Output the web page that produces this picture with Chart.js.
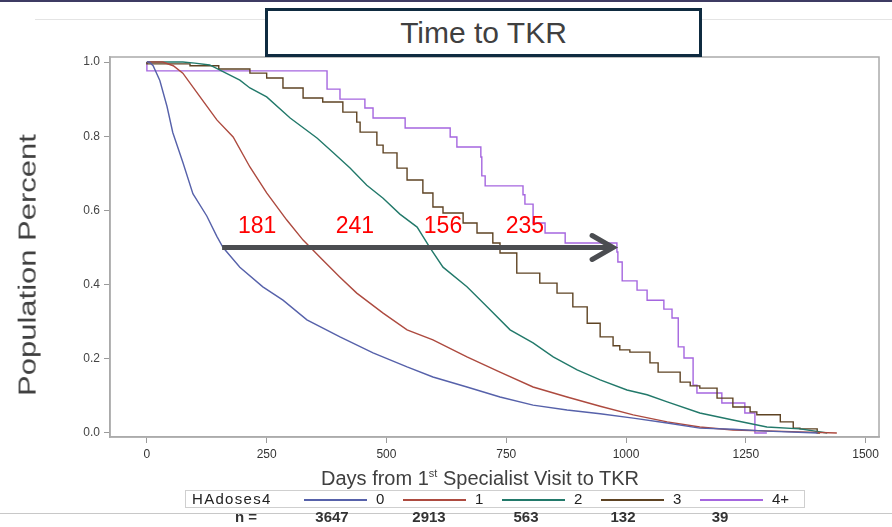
<!DOCTYPE html>
<html>
<head>
<meta charset="utf-8">
<script src="https://cdn.jsdelivr.net/npm/chart.js@4.4.1/dist/chart.umd.min.js"></script>
<style>
body { margin: 0; background: #fff; font-family: "Liberation Sans", Arial, sans-serif; }
#wrap { position: relative; width: 892px; height: 527px; overflow: hidden; }
#topbar { position: absolute; left: 0; top: 0; width: 892px; height: 2px; background: #3e3b63; }
#topline { position: absolute; left: 35px; top: 19px; width: 857px; height: 1px; background: #e4e4e4; }
#botline { position: absolute; left: 0; top: 513px; width: 892px; height: 1px; background: #c8c8c8; }
#title { position: absolute; left: 265px; top: 8px; width: 431px; height: 43px; border: 3px solid #0f2b40;
  background: #fff; text-align: center; font-size: 30px; line-height: 44px; color: #404040; }
#ytitle { position: absolute; left: 28px; top: 265px; white-space: nowrap; font-size: 31px; color: #404040;
  transform: translate(-50%, -50%) rotate(-90deg) scale(1, 0.8); }
#xtitle { position: absolute; left: 480px; top: 478px; white-space: nowrap; font-size: 20px; color: #404040;
  transform: translate(-50%, -50%); }
#xtitle sup { font-size: 11px; vertical-align: 8px; line-height: 0; }
#legend { position: absolute; left: 185px; top: 490px; width: 618px; height: 16px; border: 1px solid #cfcfcf; background: #fff; }
.lg { position: absolute; top: 0; font-size: 15px; line-height: 16px; color: #222; white-space: nowrap; }
.ls { position: absolute; top: 8px; height: 1.5px; }
.nrow { position: absolute; top: 509px; font-size: 15px; line-height: 16px; font-weight: bold; color: #333; transform: translateX(-50%); }
</style>
</head>
<body>
<div id="wrap">
  <canvas id="km" width="892" height="527"></canvas>
  <div id="topbar"></div>
  <div id="topline"></div>
  <div id="botline"></div>
  <div id="title">Time to TKR</div>
  <div id="ytitle">Population Percent</div>
  <div id="xtitle">Days from 1<sup>st</sup> Specialist Visit to TKR</div>
  <div id="legend"></div>
</div>
<script>
// tick labels
var xTicks = [0, 250, 500, 750, 1000, 1250, 1500];
var yTicks = [0, 0.2, 0.4, 0.6, 0.8, 1.0];

// groups
var groups = ['0', '1', '2', '3', '4+'];
var groupN = [3647, 2913, 563, 132, 39];
var colors = ['#5661aa', '#ad4a3f', '#22796a', '#5e4323', '#a566df'];

// survival curves, [days, proportion]
var km0 = [[0, 1], [5, 1], [13, 0.99], [27, 0.95], [42, 0.88], [54, 0.81], [75, 0.73], [96, 0.645], [125, 0.585],
  [146, 0.53], [159, 0.5], [194, 0.447], [242, 0.394], [284, 0.358], [334, 0.305], [403, 0.259], [472, 0.216],
  [543, 0.178], [597, 0.151], [668, 0.124], [737, 0.097], [806, 0.075], [877, 0.062], [946, 0.052], [1015, 0.04],
  [1086, 0.027], [1154, 0.013], [1223, 0.01], [1294, 0.005], [1400, 0]];
var km1 = [[0, 1], [33, 1], [55, 0.99], [75, 0.97], [111, 0.906], [146, 0.844], [180, 0.798], [215, 0.717],
  [250, 0.647], [292, 0.574], [326, 0.52], [367, 0.466], [403, 0.42], [438, 0.377], [493, 0.323], [543, 0.278],
  [597, 0.251], [668, 0.205], [737, 0.164], [806, 0.124], [877, 0.097], [946, 0.072], [1015, 0.049], [1086, 0.03],
  [1154, 0.016], [1223, 0.008], [1363, 0.003], [1440, 0]];
var km2 = [[0, 1], [75, 1], [100, 0.997], [131, 0.992], [194, 0.951], [215, 0.93], [250, 0.906], [299, 0.849],
  [355, 0.795], [388, 0.757], [424, 0.714], [459, 0.668], [493, 0.633], [528, 0.59], [564, 0.555], [591, 0.499],
  [618, 0.447], [668, 0.394], [710, 0.34], [758, 0.278], [806, 0.243], [848, 0.205], [898, 0.17], [946, 0.143],
  [1002, 0.116], [1044, 0.103], [1086, 0.084], [1154, 0.054], [1223, 0.035], [1294, 0.016], [1363, 0.011], [1420, 0]];
var km3 = [[0, 1], [90, 0.995], [150, 0.99], [215, 0.981], [250, 0.97], [284, 0.957], [326, 0.93], [367, 0.903],
  [409, 0.892], [438, 0.865], [445, 0.838], [480, 0.811], [493, 0.776], [522, 0.755], [543, 0.714], [576, 0.682],
  [597, 0.647], [618, 0.609], [660, 0.593], [689, 0.566], [722, 0.539], [737, 0.512], [772, 0.485], [820, 0.431],
  [856, 0.404], [889, 0.377], [919, 0.34], [946, 0.296], [973, 0.259], [987, 0.235], [1008, 0.224], [1050, 0.218],
  [1067, 0.189], [1113, 0.164], [1134, 0.137], [1154, 0.127], [1190, 0.121], [1223, 0.094], [1259, 0.07],
  [1273, 0.057], [1322, 0.049], [1349, 0.03], [1363, 0.013], [1399, 0.011], [1405, 0]];
var km4 = [[0, 1], [376, 0.976], [403, 0.927], [455, 0.9], [472, 0.876], [539, 0.849], [633, 0.822], [647, 0.798],
  [697, 0.771], [699, 0.744], [706, 0.693], [785, 0.666], [789, 0.642], [806, 0.617], [831, 0.566], [873, 0.539],
  [981, 0.512], [983, 0.488], [992, 0.461], [1023, 0.41], [1044, 0.385], [1079, 0.358], [1096, 0.334],
  [1109, 0.31], [1121, 0.232], [1140, 0.202], [1148, 0.129], [1200, 0.108], [1248, 0.081], [1269, 0.054], [1294, 0]];
var curves = [km0, km1, km2, km3, km4];
var stepped = [false, false, false, 'after', 'after'];

// median differences and arrow
var diffLabels = ['181', '241', '156', '235'];
var diffLabelX = [230, 434, 618, 789];
var diffLabelY = 0.555;
var arrowFrom = 157, arrowTo = 973, arrowY = 0.5;

// legend + n row
var leg = document.getElementById('legend');
leg.innerHTML = '<div class="lg" style="left:6px;letter-spacing:1.3px">HAdoses4</div>';
groups.forEach(function (g, i) {
    var x = 118 + i * 99;
    leg.innerHTML += '<div class="ls" style="left:' + x + 'px;width:63px;background:' + colors[i] + '"></div>' +
        '<div class="lg" style="left:' + (x + 72) + 'px">' + g + '</div>';
});
var wrap = document.getElementById('wrap');
var nr = document.createElement('div');
nr.className = 'nrow'; nr.style.left = '246px'; nr.textContent = 'n =';
wrap.appendChild(nr);
groupN.forEach(function (n, i) {
    var d = document.createElement('div');
    d.className = 'nrow';
    d.style.left = (332 + i * 97) + 'px';
    d.textContent = n;
    wrap.appendChild(d);
});

// frame + arrow + red numbers
var extras = {
    id: 'extras',
    afterDatasetsDraw: function (chart) {
        var ctx = chart.ctx, a = chart.chartArea;
        var xs = chart.scales.x, ys = chart.scales.y;
        ctx.save();
        ctx.strokeStyle = '#ababab';
        ctx.lineWidth = 1.5;
        ctx.strokeRect(a.left, a.top, a.right - a.left, a.bottom - a.top);

        var y = ys.getPixelForValue(arrowY);
        var x1 = xs.getPixelForValue(arrowFrom), x2 = xs.getPixelForValue(arrowTo);
        ctx.strokeStyle = '#4b4d51';
        ctx.lineWidth = 5;
        ctx.beginPath();
        ctx.moveTo(x1, y);
        ctx.lineTo(x2 - 3, y);
        ctx.stroke();
        ctx.lineCap = 'round';
        ctx.lineJoin = 'miter';
        ctx.beginPath();
        ctx.moveTo(x2 - 21, y - 12);
        ctx.lineTo(x2, y);
        ctx.lineTo(x2 - 21, y + 12);
        ctx.stroke();

        ctx.fillStyle = '#ff0000';
        ctx.font = '23px "Liberation Sans", Arial, sans-serif';
        ctx.textAlign = 'center';
        ctx.textBaseline = 'middle';
        diffLabels.forEach(function (t, i) {
            ctx.fillText(t, xs.getPixelForValue(diffLabelX[i]), ys.getPixelForValue(diffLabelY));
        });
        ctx.restore();
    }
};

new Chart(document.getElementById('km'), {
    type: 'line',
    data: {
        datasets: curves.map(function (c, i) {
            return {
                label: groups[i],
                data: c.map(function (p) { return { x: p[0], y: p[1] }; }),
                borderColor: colors[i],
                borderWidth: 1.4,
                pointRadius: 0,
                fill: false,
                tension: 0,
                stepped: stepped[i]
            };
        })
    },
    options: {
        responsive: false,
        animation: false,
        layout: { padding: { left: 0, right: 13, top: 57, bottom: 0 } },
        plugins: { legend: { display: false }, tooltip: { enabled: false } },
        scales: {
            x: {
                type: 'linear', min: -77, max: 1528,
                afterBuildTicks: function (s) { s.ticks = xTicks.map(function (v) { return { value: v }; }); },
                afterFit: function (s) { s.height = 90; },
                ticks: { color: '#333', font: { size: 12, family: '"Liberation Sans", Arial' }, padding: 4, maxRotation: 0, autoSkip: false,
                    callback: function (v) { return String(v); } },
                grid: { drawOnChartArea: false, tickLength: 6, color: '#9a9a9a' },
                border: { color: '#ababab', width: 1.5 }
            },
            y: {
                min: -0.0108, max: 1.0135,
                afterBuildTicks: function (s) { s.ticks = yTicks.map(function (v) { return { value: v }; }); },
                afterFit: function (s) { s.width = 110; },
                ticks: { color: '#444', font: { size: 12, family: '"Liberation Sans", Arial' }, padding: 4,
                    callback: function (v) { return v.toFixed(1); } },
                grid: { drawOnChartArea: false, tickLength: 6, color: '#9a9a9a' },
                border: { color: '#ababab', width: 1.5 }
            }
        }
    },
    plugins: [extras]
});
</script>
</body>
</html>
